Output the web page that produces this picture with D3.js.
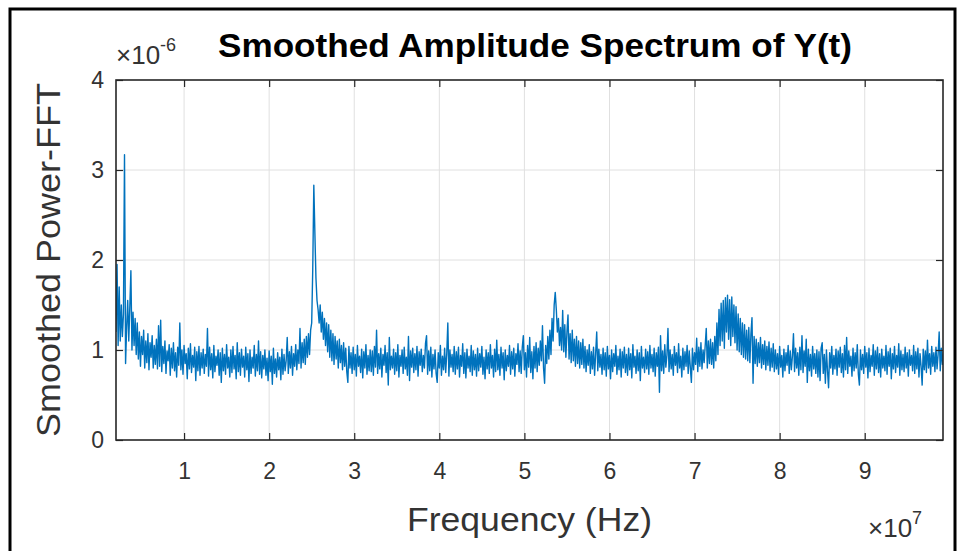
<!DOCTYPE html>
<html lang="en">
<head>
<meta charset="UTF-8">
<title>Smoothed Amplitude Spectrum of Y(t)</title>
<script src="https://d3js.org/d3.v7.min.js"></script>
<style>
  body { margin: 0; background: white; }
  svg { display: block; font-family: "Liberation Sans", Arial, Helvetica, sans-serif; }
  .grid line { stroke: #e0e0e0; stroke-width: 1; }
  .axis path { display: none; }
  .axis line { stroke: #262626; stroke-width: 1.2; }
  .axis text { fill: #333; font-size: 23px; }
  .trace { fill: none; stroke: #0072bd; stroke-width: 1.4; stroke-linejoin: round; }
</style>
</head>
<body>
<svg id="svg"></svg>
<script>
// frequency bins (Hz): first bin and bin spacing
const freqStart = 2.0e6;
const freqStep = 1.25e5;

// smoothed power per bin, in units of 1e-6
// each row is 20 bins = 2.5 MHz, starting at 2 MHz
const power = [
  1.20, 1.95, 1.05, 1.70, 1.10, 1.50, 1.15, 1.40, 3.17, 0.85, 1.25, 1.55, 1.10, 1.48, 1.88, 1.00, 1.42, 1.05, 1.35, 0.95,
  1.30, 0.90, 1.20, 0.82, 1.15, 0.95, 1.22, 0.80, 1.10, 0.86, 1.18, 0.78, 1.08, 0.92, 1.16, 0.80, 1.05, 0.84, 1.12, 0.79,
  1.27, 0.82, 1.33, 0.76, 1.04, 0.85, 1.10, 0.74, 0.99, 0.88, 1.06, 0.72, 1.02, 0.80, 1.08, 0.77, 0.97, 0.70, 1.03, 0.83,
  1.30, 0.78, 1.00, 0.73, 1.05, 0.85, 0.96, 0.68, 1.02, 0.79, 1.07, 0.75, 0.94, 0.81, 1.03, 0.66, 0.98, 0.77, 1.04, 0.72,
  0.97, 0.80, 1.01, 0.74, 0.95, 0.82, 1.24, 0.71, 1.03, 0.78, 0.96, 0.69, 1.05, 0.76, 0.93, 0.83, 1.00, 0.72, 0.97, 0.64,
  1.02, 0.77, 0.95, 0.73, 1.06, 0.80, 0.92, 0.70, 1.00, 0.75, 1.04, 0.79, 0.94, 0.68, 1.08, 0.76, 0.97, 0.72, 1.01, 0.81,
  0.93, 0.70, 1.03, 0.78, 0.96, 0.65, 1.00, 0.74, 0.92, 0.80, 1.05, 0.71, 0.95, 0.77, 1.10, 0.73, 0.98, 0.69, 0.94, 0.79,
  1.00, 0.72, 0.91, 0.66, 0.99, 0.76, 0.93, 0.62, 1.02, 0.74, 0.90, 0.70, 0.97, 0.78, 0.92, 0.67, 1.01, 0.73, 0.95, 0.77,
  0.88, 1.14, 0.74, 0.98, 0.80, 1.04, 0.72, 0.96, 0.82, 1.06, 0.78, 1.00, 0.85, 1.24, 0.80, 1.08, 0.86, 1.12, 0.84, 1.15,
  0.92, 1.18, 0.95, 1.22, 1.30, 1.90, 2.83, 2.30, 1.80, 1.55, 1.45, 1.30, 1.50, 1.20, 1.42, 1.12, 1.35, 1.05, 1.30, 0.98,
  1.28, 0.92, 1.22, 0.88, 1.18, 0.84, 1.15, 0.90, 1.10, 0.80, 1.12, 0.86, 1.05, 0.78, 1.08, 0.82, 1.02, 0.76, 0.64, 1.04,
  0.80, 0.97, 0.74, 1.03, 0.78, 0.95, 0.71, 1.05, 0.82, 0.93, 0.75, 1.01, 0.69, 0.98, 0.80, 1.06, 0.73, 0.94, 0.77, 1.00,
  0.76, 0.99, 0.72, 1.04, 0.81, 1.22, 0.74, 0.96, 0.79, 1.02, 0.70, 0.95, 0.83, 1.05, 0.75, 0.97, 0.61, 1.14, 0.78, 0.93,
  0.80, 1.01, 0.73, 0.97, 0.77, 1.06, 0.70, 0.94, 0.82, 1.00, 0.74, 1.03, 0.79, 0.92, 0.72, 1.15, 0.66, 0.99, 0.81, 1.02,
  0.75, 0.96, 0.78, 1.04, 0.71, 0.98, 0.83, 1.01, 0.76, 0.94, 0.80, 1.07, 1.16, 0.73, 0.99, 0.77, 1.03, 0.70, 0.95, 0.79,
  1.00, 0.74, 0.64, 0.97, 0.80, 1.05, 0.72, 0.93, 0.78, 1.02, 0.75, 0.96, 1.30, 0.71, 1.00, 0.81, 0.95, 0.76, 1.04, 0.73,
  0.98, 0.79, 1.03, 0.70, 0.94, 0.82, 1.07, 0.74, 0.97, 0.69, 1.01, 0.80, 0.93, 0.76, 1.05, 0.72, 0.99, 0.78, 0.95, 0.71,
  1.02, 0.77, 0.96, 0.81, 1.04, 0.73, 0.92, 0.68, 1.00, 0.79, 0.97, 0.74, 1.06, 0.80, 0.94, 0.70, 1.01, 0.76, 1.11, 0.78,
  0.95, 0.72, 1.03, 0.80, 0.97, 0.67, 1.00, 0.77, 0.94, 0.82, 1.05, 0.73, 0.98, 0.79, 1.02, 0.71, 0.96, 0.84, 1.07, 0.76,
  0.99, 0.74, 1.03, 1.16, 0.78, 0.97, 0.70, 1.05, 0.81, 1.14, 0.75, 0.98, 0.68, 1.04, 0.80, 1.08, 0.76, 1.02, 0.83, 1.10,
  0.88, 1.27, 0.80, 0.63, 1.05, 0.85, 1.15, 0.90, 1.22, 0.95, 1.35, 1.10, 1.50, 1.64, 1.45, 1.20, 1.35, 1.05, 1.25, 1.00,
  1.44, 0.98, 1.28, 0.92, 1.20, 1.39, 0.90, 1.18, 0.86, 1.22, 0.88, 1.12, 0.82, 1.15, 0.85, 1.10, 0.80, 1.08, 0.84, 1.12,
  0.80, 1.04, 0.76, 1.00, 0.83, 1.06, 0.74, 0.98, 0.79, 1.03, 0.72, 0.96, 1.20, 0.77, 1.01, 0.81, 0.95, 0.73, 1.02, 0.78,
  0.97, 0.71, 1.04, 0.79, 0.94, 0.68, 1.00, 0.76, 0.96, 0.82, 1.05, 0.73, 0.93, 0.78, 1.01, 0.70, 0.98, 0.80, 1.03, 0.75,
  0.95, 0.72, 1.02, 0.78, 0.96, 0.69, 1.06, 0.81, 0.93, 0.74, 1.00, 0.77, 0.97, 0.66, 1.04, 0.80, 0.92, 0.75, 1.01, 0.79,
  0.98, 0.73, 1.05, 0.80, 0.95, 0.76, 1.02, 0.71, 0.97, 0.82, 1.03, 0.53, 1.16, 0.77, 0.99, 0.74, 1.06, 0.81, 0.94, 1.24,
  0.76, 1.00, 0.79, 0.95, 0.72, 1.04, 0.83, 0.97, 0.75, 1.07, 0.80, 0.93, 0.70, 1.02, 0.78, 0.98, 0.82, 1.05, 0.74, 0.99,
  0.81, 0.64, 1.02, 0.78, 0.97, 0.84, 1.13, 0.76, 1.03, 0.82, 1.08, 0.79, 1.00, 0.86, 1.05, 1.24, 0.80, 1.10, 0.85, 1.12,
  0.84, 1.08, 0.80, 1.15, 0.88, 1.30, 0.95, 1.45, 1.05, 1.52, 1.10, 1.55, 1.02, 1.58, 1.20, 1.61, 1.12, 1.56, 1.05, 1.59,
  1.15, 1.50, 1.08, 1.48, 1.00, 1.40, 0.98, 1.35, 0.95, 1.30, 0.92, 1.28, 0.90, 1.22, 0.88, 1.25, 0.86, 1.18, 1.36, 0.63,
  1.15, 0.85, 1.12, 0.82, 1.08, 0.86, 1.14, 0.80, 1.06, 0.84, 1.10, 0.78, 1.04, 0.83, 1.09, 0.77, 1.02, 0.81, 1.07, 0.76,
  1.00, 0.79, 0.96, 0.73, 1.04, 0.81, 0.94, 0.70, 1.01, 0.77, 0.97, 0.83, 1.05, 0.74, 0.99, 0.78, 0.93, 1.18, 0.76, 1.02,
  0.80, 0.97, 0.72, 1.03, 0.78, 1.16, 0.75, 0.99, 0.82, 1.12, 0.64, 1.01, 0.77, 0.95, 0.71, 1.04, 0.79, 0.96, 0.74, 1.00,
  0.70, 0.98, 0.66, 1.02, 1.08, 0.74, 0.95, 0.63, 1.00, 0.77, 0.58, 0.97, 0.80, 1.04, 0.73, 0.94, 0.79, 1.01, 0.72, 0.99,
  0.81, 1.03, 0.75, 0.96, 0.70, 1.05, 0.78, 1.14, 0.74, 0.99, 0.82, 0.93, 0.71, 1.02, 0.77, 0.97, 0.80, 1.06, 0.73, 0.61,
  1.00, 0.78, 0.95, 0.74, 1.04, 0.81, 0.97, 0.69, 1.02, 0.76, 0.94, 0.82, 1.06, 0.72, 0.99, 0.79, 1.03, 0.75, 0.96, 0.70,
  1.01, 0.80, 0.93, 0.77, 1.05, 0.73, 0.98, 0.82, 1.02, 0.68, 0.96, 0.79, 1.04, 0.75, 0.94, 0.81, 1.07, 0.72, 0.99, 0.78,
  0.95, 0.76, 1.03, 0.80, 0.97, 0.71, 1.00, 0.83, 0.94, 0.77, 1.05, 0.74, 0.98, 0.79, 1.02, 0.70, 0.96, 0.82, 0.61, 1.01,
  0.78, 0.99, 0.75, 1.11, 0.80, 0.96, 0.73, 1.04, 0.82, 0.97, 0.76, 1.03, 0.79, 0.95, 1.20, 0.77, 1.02, 0.84, 0.98, 0.80
];

const xTicks = [1e7, 2e7, 3e7, 4e7, 5e7, 6e7, 7e7, 8e7, 9e7];
const yTicks = [0, 1, 2, 3, 4];
const xDomain = [2.0e6, 9.92e7];
const yDomain = [0, 4];

const titleText = "Smoothed Amplitude Spectrum of Y(t)";
const xLabelText = "Frequency (Hz)";
const yLabelText = "Smoothed Power-FFT";

// layout
const W = 963, H = 551;
const plotL = 116, plotR = 943, plotT = 80, plotB = 440;

const svg = d3.select("#svg").attr("width", W).attr("height", H);

// outer black frame
svg.append("rect")
  .attr("x", 10).attr("y", 9).attr("width", 945).attr("height", 560)
  .attr("fill", "none").attr("stroke", "#000").attr("stroke-width", 3);

const x = d3.scaleLinear().domain(xDomain).range([plotL, plotR]);
const y = d3.scaleLinear().domain(yDomain).range([plotB, plotT]);

// grid
const grid = svg.append("g").attr("class", "grid");
grid.selectAll(".gx").data(xTicks).join("line")
  .attr("x1", d => x(d)).attr("x2", d => x(d))
  .attr("y1", plotT).attr("y2", plotB);
grid.selectAll(".gy").data(yTicks.filter(d => d > 0 && d < 4)).join("line")
  .attr("x1", plotL).attr("x2", plotR)
  .attr("y1", d => y(d)).attr("y2", d => y(d));

// trace
svg.append("clipPath").attr("id", "clip")
  .append("rect").attr("x", plotL).attr("y", plotT)
  .attr("width", plotR - plotL).attr("height", plotB - plotT);

const line = d3.line()
  .x((d, i) => x(freqStart + i * freqStep))
  .y(d => y(d));

svg.append("path")
  .datum(power)
  .attr("class", "trace")
  .attr("clip-path", "url(#clip)")
  .attr("d", line);

// axes, ticks pointing inward on all four sides
const tick = 7;
svg.append("g").attr("class", "axis")
  .attr("transform", `translate(0,${plotB})`)
  .call(d3.axisBottom(x).tickValues(xTicks).tickFormat(d => d / 1e7)
    .tickSizeInner(-tick).tickSizeOuter(0).tickPadding(23));
svg.append("g").attr("class", "axis")
  .attr("transform", `translate(0,${plotT})`)
  .call(d3.axisTop(x).tickValues(xTicks).tickFormat("")
    .tickSizeInner(-tick).tickSizeOuter(0));
svg.append("g").attr("class", "axis")
  .attr("transform", `translate(${plotL},0)`)
  .call(d3.axisLeft(y).tickValues(yTicks).tickFormat(d3.format("d"))
    .tickSizeInner(-tick).tickSizeOuter(0).tickPadding(12));
svg.append("g").attr("class", "axis")
  .attr("transform", `translate(${plotR},0)`)
  .call(d3.axisRight(y).tickValues(yTicks).tickFormat("")
    .tickSizeInner(-tick).tickSizeOuter(0));

// box
svg.append("rect")
  .attr("x", plotL).attr("y", plotT)
  .attr("width", plotR - plotL).attr("height", plotB - plotT)
  .attr("fill", "none").attr("stroke", "#262626").attr("stroke-width", 1.6);

// title
svg.append("text")
  .attr("x", 218).attr("y", 57)
  .attr("textLength", 634).attr("lengthAdjust", "spacingAndGlyphs")
  .style("font-size", "34px").style("font-weight", "bold").attr("fill", "#000")
  .text(titleText);

// exponent labels
const ey = svg.append("text").attr("x", 116).attr("y", 64)
  .attr("fill", "#333").style("font-size", "26px");
ey.append("tspan").text("\u00d710");
ey.append("tspan").attr("dy", -13).style("font-size", "18px").text("-6");

const ex = svg.append("text").attr("x", 868).attr("y", 537)
  .attr("fill", "#333").style("font-size", "26px");
ex.append("tspan").text("\u00d710");
ex.append("tspan").attr("dy", -13).style("font-size", "18px").text("7");

// axis labels
svg.append("text")
  .attr("x", 407).attr("y", 531)
  .attr("textLength", 245).attr("lengthAdjust", "spacingAndGlyphs")
  .style("font-size", "33px").attr("fill", "#333")
  .text(xLabelText);

svg.append("text")
  .attr("transform", "translate(60,437) rotate(-90)")
  .attr("textLength", 354).attr("lengthAdjust", "spacingAndGlyphs")
  .style("font-size", "33px").attr("fill", "#333")
  .text(yLabelText);
</script>
</body>
</html>
